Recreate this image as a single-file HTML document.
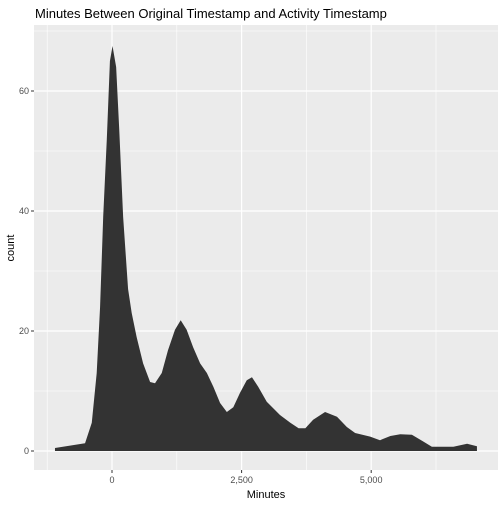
<!DOCTYPE html>
<html><head><meta charset="utf-8"><style>
body{margin:0;background:#fff;}
svg text{font-family:"Liberation Sans",sans-serif;}
</style></head><body>
<svg width="504" height="504">
<g id="root"></g>
</svg>
<script>
const minutes=[-1100,-520,-390,-295,-230,-170,-100,-40,10,80,140,215,310,380,475,600,735,830,960,1080,1215,1325,1440,1565,1700,1830,1955,2085,2215,2340,2470,2600,2700,2820,2985,3240,3440,3600,3730,3880,4110,4340,4530,4690,4980,5170,5370,5560,5785,6000,6170,6585,6850,7040];
const counts=[0.5,1.3,4.7,13,24,39,52,65,67.5,64,53.5,39,27,23,19,14.6,11.5,11.3,13,16.8,20.2,21.8,20.2,17.3,14.6,13,10.7,8,6.5,7.3,9.7,11.8,12.3,10.7,8.2,6,4.7,3.8,3.8,5.2,6.5,5.7,4,3,2.4,1.8,2.5,2.8,2.7,1.6,0.7,0.7,1.2,0.8];
const xTicks=[0,2500,5000];
const xTickLabels=["0","2,500","5,000"];
const yTicks=[0,20,40,60];
const yTickLabels=["0","20","40","60"];

const L=34,R=498,T=25,B=470;
const X=m=>112+m*0.05184;
const Y=c=>451-c*6;
const ns="http://www.w3.org/2000/svg";
const root=document.getElementById('root');
function mk(t,a,p){const e=document.createElementNS(ns,t);for(const k in a)e.setAttribute(k,a[k]);(p||root).appendChild(e);return e;}
const panel=mk('rect',{x:L,y:T,width:R-L,height:B-T,fill:'#ebebeb'});


[-1250,1250,3750,6250].forEach(m=>{const l=mk('line',{x1:X(m),x2:X(m),y1:T,y2:B,stroke:'#fff','stroke-width':0.6});});
[10,30,50,70].forEach(c=>{const l=mk('line',{x1:L,x2:R,y1:Y(c),y2:Y(c),stroke:'#fff','stroke-width':0.6});});
xTicks.forEach((m,i)=>{
 const l=mk('line',{x1:X(m),x2:X(m),y1:T,y2:B,stroke:'#fff','stroke-width':1.2});
 
 
 const t=mk('line',{x1:X(m),x2:X(m),y1:B,y2:B+3,stroke:'#333'});
 
 
 const tx=mk('text',{x:X(m),y:B+13,'text-anchor':'middle','font-size':9,fill:'#4d4d4d'});
 tx.textContent=xTickLabels[i];
 
 
});
yTicks.forEach((c,i)=>{
 const l=mk('line',{x1:L,x2:R,y1:Y(c),y2:Y(c),stroke:'#fff','stroke-width':1.2});
 
 
 const t=mk('line',{x1:L-3,x2:L,y1:Y(c),y2:Y(c),stroke:'#333'});
 
 
 const tx=mk('text',{x:L-5,y:Y(c)+3,'text-anchor':'end','font-size':9,fill:'#4d4d4d'});
 tx.textContent=yTickLabels[i];
 
 
});
let pts=[[X(minutes[0]),Y(0)]];
minutes.forEach((m,i)=>pts.push([X(m),Y(counts[i])]));
pts.push([X(minutes[minutes.length-1]),Y(0)]);
const area=mk('polygon',{points:pts.map(p=>p.join(',')).join(' '),fill:'#333333'});


const title=mk('text',{x:35,y:18,'font-size':13,fill:'#000'});
title.textContent='Minutes Between Original Timestamp and Activity Timestamp';


const xt=mk('text',{x:266,y:498,'text-anchor':'middle','font-size':11,fill:'#000'});
xt.textContent='Minutes';


const yt=mk('text',{x:14,y:248,'text-anchor':'middle','font-size':11,fill:'#000',transform:'rotate(-90 14 248)'});
yt.textContent='count';


</script>
</body></html>
